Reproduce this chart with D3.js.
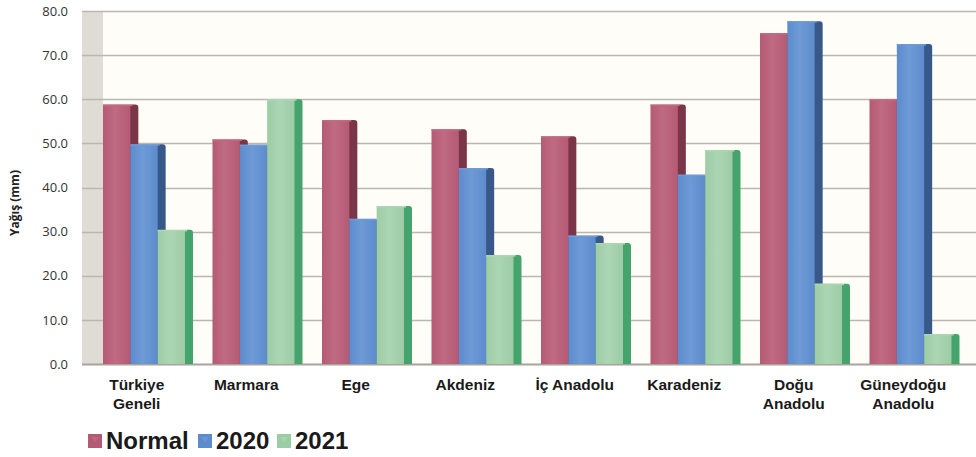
<!DOCTYPE html>
<html>
<head>
<meta charset="utf-8">
<script src="https://cdn.jsdelivr.net/npm/d3@7"></script>
<style>
  body { margin: 0; background: #fff; }
  svg { display: block; }
</style>
</head>
<body>
<div class="chart"></div>
<script>
const categories = ["Türkiye Geneli", "Marmara", "Ege", "Akdeniz", "İç Anadolu", "Karadeniz", "Doğu Anadolu", "Güneydoğu Anadolu"];
const series = ["Normal", "2020", "2021"];
const normalValues = [58.8, 50.9, 55.3, 53.2, 51.6, 58.8, 75.0, 60.0];
const values2020 = [49.8, 49.7, 32.9, 44.4, 29.1, 42.9, 77.7, 72.5];
const values2021 = [30.4, 60.0, 35.8, 24.7, 27.4, 48.5, 18.2, 6.8];
const yTicks = [0, 10, 20, 30, 40, 50, 60, 70, 80];

const w = 976;
const h = 457;
const plotTop = 11;
const plotBottom = 364;
const wallLeft = 82;
const wallRight = 103;

const colors = {
    "Normal": { front: "#b55a74", light: "#c06a83", side: "#7b3549" },
    "2020": { front: "#5d8ccc", light: "#6e9ad6", side: "#38588a" },
    "2021": { front: "#9ccca5", light: "#acd6b3", side: "#45a46c" },
};

const table = categories.map((c, i) => ({
    category: c,
    values: [
        { key: "Normal", value: normalValues[i] },
        { key: "2020", value: values2020[i] },
        { key: "2021", value: values2021[i] },
    ],
}));

const svg = d3.select(".chart")
    .append("svg")
    .attr("width", w)
    .attr("height", h);

const defs = svg.append("defs");
series.forEach((s, i) => {
    const g = defs.append("linearGradient")
        .attr("id", "grad" + i)
        .attr("x1", "0").attr("x2", "1").attr("y1", "0").attr("y2", "0");
    g.append("stop").attr("offset", "0%").attr("stop-color", colors[s].front);
    g.append("stop").attr("offset", "45%").attr("stop-color", colors[s].light);
    g.append("stop").attr("offset", "100%").attr("stop-color", colors[s].front);
});

const yScale = d3.scaleLinear().domain([0, 80]).range([plotBottom, plotTop]);

const xScale = d3.scaleBand()
    .domain(categories)
    .range([92, 968]);

const xSeries = d3.scaleBand()
    .domain(series)
    .range([0, 82]);

// plot background
svg.append("rect")
    .attr("x", wallRight)
    .attr("y", plotTop)
    .attr("width", w - wallRight)
    .attr("height", plotBottom - plotTop)
    .attr("fill", "#fefdf8");

// side wall
svg.append("rect")
    .attr("x", wallLeft)
    .attr("y", plotTop)
    .attr("width", wallRight - wallLeft)
    .attr("height", plotBottom - plotTop)
    .attr("fill", "#dedcd5");

// grid lines
svg.append("g")
    .selectAll("line")
    .data(yTicks)
    .join("line")
    .attr("x1", wallLeft)
    .attr("x2", w)
    .attr("y1", (d) => Math.round(yScale(d)) + 0.5)
    .attr("y2", (d) => Math.round(yScale(d)) + 0.5)
    .attr("stroke", (d) => (d === 0 ? "#a8a39b" : "#bcb7ae"))
    .attr("stroke-width", (d) => (d === 0 ? 2 : 1.3));

// y axis labels
const yAxis = d3.axisLeft(yScale)
    .tickValues(yTicks)
    .tickFormat(d3.format(".1f"))
    .tickSize(0)
    .tickPadding(0);

svg.append("g")
    .attr("transform", `translate(68,0)`)
    .call(yAxis)
    .call((g) => g.select(".domain").remove())
    .call((g) => g.selectAll("text")
        .attr("font-family", "'Open Sans', sans-serif")
        .attr("font-size", 13)
        .attr("fill", "#333"));

svg.append("text")
    .attr("transform", "translate(19,203) rotate(-90)")
    .attr("text-anchor", "middle")
    .attr("font-family", "'Open Sans', sans-serif")
    .attr("font-weight", "bold")
    .attr("font-size", 12)
    .attr("fill", "#222")
    .text("Yağış (mm)");

// bars
const sideW = 8;
const groups = svg.append("g")
    .selectAll("g")
    .data(table)
    .join("g")
    .attr("transform", (d) => `translate(${xScale(d.category) + 11},0)`);

groups.selectAll("g")
    .data((d) => d.values)
    .join("g")
    .each(function (d, i) {
        const g = d3.select(this);
        const x0 = xSeries(d.key);
        const bw = xSeries.bandwidth();
        const y0 = yScale(d.value);
        g.append("path")
            .attr("d", `M${x0 + bw - 1},${plotBottom} V${y0 + 1} Q${x0 + bw - 1},${y0} ${x0 + bw + 2},${y0} H${x0 + bw + sideW - 3} Q${x0 + bw + sideW},${y0} ${x0 + bw + sideW},${y0 + 3} V${plotBottom} Z`)
            .attr("fill", colors[d.key].side);
        g.append("rect")
            .attr("x", x0)
            .attr("y", y0)
            .attr("width", bw)
            .attr("height", plotBottom - y0)
            .attr("fill", `url(#grad${i})`);
        g.append("rect")
            .attr("x", x0)
            .attr("y", y0)
            .attr("width", bw + 2)
            .attr("height", 1.5)
            .attr("fill", colors[d.key].light);
    });

// x axis labels (long names wrap onto two lines)
const xLabels = svg.append("g")
    .selectAll("text")
    .data(categories)
    .join("text")
    .attr("x", (d) => xScale(d) + xScale.bandwidth() / 2 - 10)
    .attr("y", 390)
    .attr("text-anchor", "middle")
    .attr("font-family", "'Liberation Sans', Arial, sans-serif")
    .attr("font-weight", "bold")
    .attr("font-size", 15.5)
    .attr("fill", "#1a1a1a");

xLabels.each(function (d) {
    const words = d.length > 10 ? d.split(" ") : [d];
    const t = d3.select(this);
    words.forEach((word, i) => {
        t.append("tspan")
            .attr("x", t.attr("x"))
            .attr("dy", i === 0 ? 0 : 19)
            .text(word);
    });
});

// legend
const legend = svg.append("g")
    .attr("transform", "translate(88,431)");

const legendX = [0, 110, 189];
series.forEach((s, i) => {
    const item = legend.append("g").attr("transform", `translate(${legendX[i]},0)`);
    item.append("rect")
        .attr("x", 0)
        .attr("y", 3)
        .attr("width", 14)
        .attr("height", 14)
        .attr("fill", colors[s].front);
    item.append("path")
        .attr("d", "M3,6 L7,11 L11,6 Z")
        .attr("fill", colors[s].light)
        .attr("opacity", 0.8);
    item.append("text")
        .attr("x", 18)
        .attr("y", 18)
        .attr("font-family", "'Liberation Sans', Arial, sans-serif")
        .attr("font-weight", "bold")
        .attr("font-size", 24)
        .attr("fill", "#1a1a1a")
        .text(s);
});
</script>
</body>
</html>
